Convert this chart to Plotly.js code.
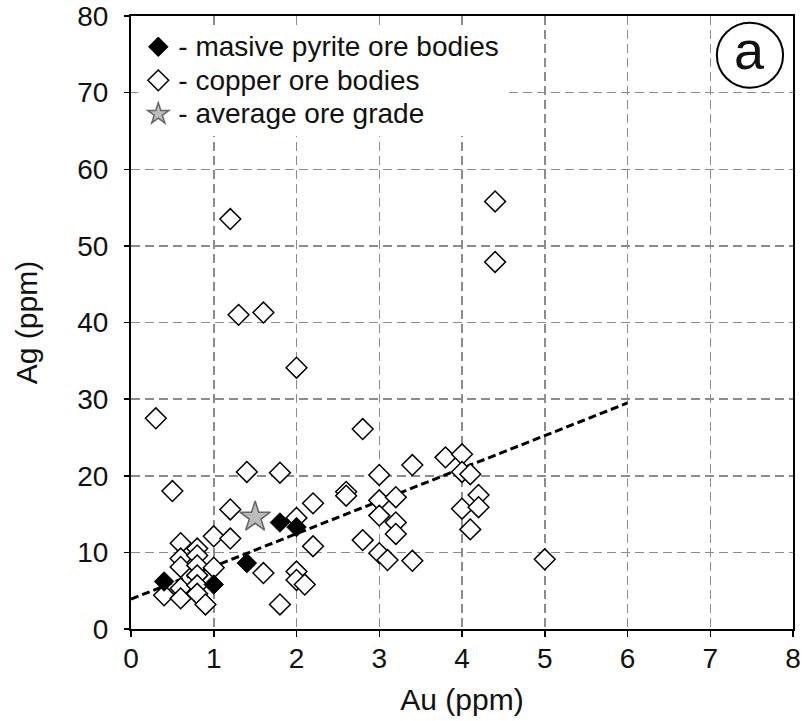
<!DOCTYPE html>
<html><head><meta charset="utf-8">
<script src="https://cdn.plot.ly/plotly-3.0.1.min.js"></script>
<style>html,body{margin:0;padding:0;background:#fff}</style>
</head><body><div id="chart" style="width:806px;height:721px"></div>
<script>
// ---- data ----
const pyriteAu = [0.4, 1.0, 1.4, 1.8, 2.0];
const pyriteAg = [6.2, 5.8, 8.6, 13.9, 13.3];

const copperAu = [0.3, 0.5, 1.2, 1.3, 1.6, 2.0, 2.8, 4.4, 4.4, 1.4, 1.8, 1.2, 2.0, 2.2, 2.2,
  1.0, 1.2, 0.6, 0.8, 0.6, 0.8, 0.6, 0.8, 1.0, 0.8, 1.6, 0.4, 0.6, 0.6, 0.8, 0.8, 0.9, 1.8,
  2.0, 2.0, 2.1, 2.6, 2.6, 2.8, 3.0, 3.4, 3.8, 4.0, 4.0, 4.1, 3.0, 3.2, 3.0, 3.2, 3.2, 3.0,
  3.1, 3.4, 4.2, 4.0, 4.2, 4.1, 5.0];
const copperAg = [27.5, 18.0, 53.5, 41.0, 41.3, 34.1, 26.1, 55.8, 47.9, 20.5, 20.4, 15.6, 14.5, 16.4, 10.8,
  12.1, 11.8, 11.2, 10.5, 9.2, 9.6, 8.1, 8.3, 8.0, 7.0, 7.3, 4.4, 5.3, 4.0, 5.7, 4.6, 3.2, 3.2,
  7.5, 6.4, 5.8, 17.9, 17.4, 11.6, 20.1, 21.4, 22.4, 22.8, 20.5, 20.2, 16.8, 17.2, 14.8, 13.9, 12.4, 9.9,
  9.0, 8.9, 17.5, 15.7, 15.9, 13.0, 9.1];

const avgAu = [1.5];
const avgAg = [14.6];

const trendAu = [0, 6];
const trendAg = [3.9, 29.5];

const xTicks = [0, 1, 2, 3, 4, 5, 6, 7, 8];
const yTicks = [0, 10, 20, 30, 40, 50, 60, 70, 80];

const legendNames = ['- masive pyrite ore bodies', '- copper ore bodies', '- average ore grade'];
const panelLabel = 'a';

// ---- styling ----
const FONT = 'Liberation Sans, Arial, Helvetica, sans-serif';
const INK = '#111111';
const big = s => '<span style="font-size:28px">' + s + '</span>';

const traces = [
  {
    x: trendAu, y: trendAg, mode: 'lines', type: 'scatter', showlegend: false, hoverinfo: 'skip',
    line: {color: '#000000', width: 3, dash: '8px,4px'}
  },
  {
    x: copperAu, y: copperAg, mode: 'markers', type: 'scatter', name: big(legendNames[1]), legendrank: 2,
    marker: {symbol: 'diamond', size: 16, color: '#ffffff', line: {color: '#000000', width: 1.5}}
  },
  {
    x: pyriteAu, y: pyriteAg, mode: 'markers', type: 'scatter', name: big(legendNames[0]), legendrank: 1,
    marker: {symbol: 'diamond', size: 15, color: '#000000', line: {color: '#000000', width: 1}}
  },
  {
    x: avgAu, y: avgAg, mode: 'markers', type: 'scatter', name: big(legendNames[2]), legendrank: 3,
    marker: {symbol: 'star', size: 23, color: '#bcbcbc', line: {color: '#666666', width: 1.5}}
  }
];

const layout = {
  width: 806, height: 721,
  margin: {l: 131, r: 13, t: 16, b: 92},
  paper_bgcolor: '#ffffff', plot_bgcolor: '#ffffff',
  font: {family: FONT, color: INK, size: 28},
  showlegend: true,
  legend: {
    x: 0.011, y: 0.9853, xanchor: 'left', yanchor: 'top',
    bgcolor: '#ffffff', borderwidth: 0, itemwidth: 30, itemsizing: 'trace',
    font: {family: FONT, size: 23.5, color: INK}, traceorder: 'normal'
  },
  xaxis: {
    range: [0, 8], tickvals: xTicks, ticktext: xTicks.map(String),
    showline: true, linecolor: '#000000', linewidth: 2, mirror: true,
    ticks: 'outside', ticklen: 6, tickwidth: 1.5, tickcolor: '#000000',
    showgrid: true, gridcolor: '#8c8c8c', gridwidth: 1.5, griddash: '9px,5px',
    zeroline: false, tickfont: {family: FONT, size: 28, color: INK},
    ticklabelstandoff: -3,
    title: {text: 'Au (ppm)', font: {family: FONT, size: 30, color: INK}, standoff: 16}
  },
  yaxis: {
    range: [0, 80], tickvals: yTicks, ticktext: yTicks.map(String),
    showline: true, linecolor: '#000000', linewidth: 2, mirror: true,
    ticks: 'outside', ticklen: 5, tickwidth: 1.5, tickcolor: '#000000',
    showgrid: true, gridcolor: '#8c8c8c', gridwidth: 1.5, griddash: '9px,5px',
    zeroline: false, tickfont: {family: FONT, size: 28, color: INK},
    ticklabelstandoff: 10,
    title: {text: 'Ag (ppm)', font: {family: FONT, size: 30, color: INK}, standoff: 31}
  },
  xaxis2: {
    overlaying: 'x', anchor: 'y', side: 'top', range: [0, 8], tickvals: xTicks,
    showticklabels: false, ticks: 'inside', ticklen: 7, tickwidth: 1.5, tickcolor: '#000000',
    showgrid: false, zeroline: false, showline: false
  },
  yaxis2: {
    overlaying: 'y', anchor: 'x', side: 'left', range: [0, 80], tickvals: yTicks,
    showticklabels: false, ticks: 'inside', ticklen: 8, tickwidth: 1.5, tickcolor: '#000000',
    showgrid: false, zeroline: false, showline: false
  },
  shapes: [
    {type: 'circle', xref: 'paper', yref: 'paper', x0: 0.885, x1: 0.985, y0: 0.883, y1: 0.989,
     line: {color: '#000000', width: 2}, fillcolor: 'rgba(0,0,0,0)'}
  ],
  annotations: [
    {xref: 'paper', yref: 'paper', x: 0.935, y: 0.944, xanchor: 'center', yanchor: 'middle',
     text: panelLabel, showarrow: false, font: {family: FONT, size: 54, color: INK}}
  ]
};

Plotly.newPlot('chart', traces, layout, {displayModeBar: false, staticPlot: true});
</script>
</body></html>
